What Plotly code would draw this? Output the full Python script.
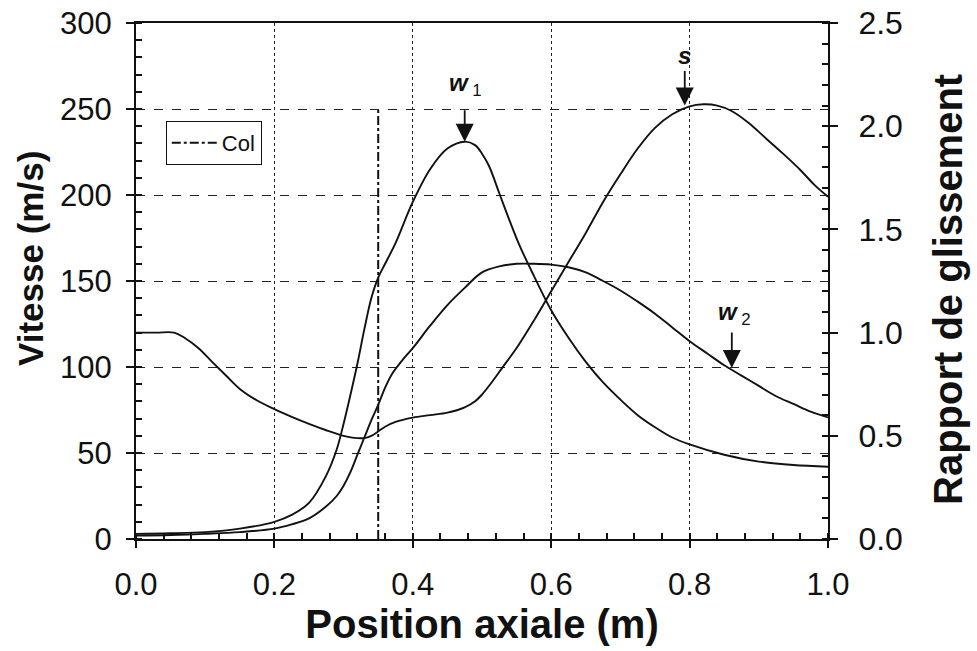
import plotly.graph_objects as go

# Gas velocity w1 (m/s)
x_w1 = [0.00, 0.05, 0.10, 0.15, 0.20, 0.225, 0.25, 0.275, 0.29, 0.30, 0.31, 0.32, 0.33, 0.34, 0.35, 0.36,
        0.375, 0.40, 0.425, 0.45, 0.475, 0.49, 0.50, 0.51, 0.525, 0.54, 0.555, 0.575, 0.60, 0.625, 0.65,
        0.675, 0.70, 0.725, 0.75, 0.775, 0.80, 0.85, 0.90, 0.95, 1.00]
v_w1 = [3, 3.3, 4, 6, 10, 14, 21, 37, 52, 67, 84, 102, 122, 140, 152, 160,
        172, 196, 215, 227, 231, 229, 224, 217, 201, 185, 170, 153, 133, 117, 103,
        91, 81, 72, 65, 59, 55, 49, 45, 43, 42]

# Liquid velocity w2 (m/s)
x_w2 = [0.00, 0.05, 0.10, 0.15, 0.20, 0.225, 0.25, 0.275, 0.29, 0.30, 0.31, 0.32, 0.33, 0.34, 0.35, 0.36,
        0.37, 0.385, 0.40, 0.425, 0.45, 0.475, 0.50, 0.525, 0.55, 0.575, 0.60, 0.625, 0.65, 0.675, 0.70,
        0.725, 0.75, 0.775, 0.80, 0.825, 0.85, 0.875, 0.90, 0.925, 0.95, 0.975, 1.00]
v_w2 = [2, 2.3, 3, 4, 6, 8.5, 12, 19, 25, 31, 39, 49, 59, 69, 78, 88,
        96, 104, 111, 124, 136, 146, 155, 158.5, 160, 160, 159.5, 158, 155, 150, 144.5,
        138, 131, 123, 115, 108, 101, 95, 89, 83, 78.5, 74, 70.7]

# Slip ratio s (right axis)
x_s = [0.00, 0.03, 0.055, 0.07, 0.09, 0.11, 0.13, 0.15, 0.175, 0.20, 0.225, 0.25, 0.275, 0.30, 0.315,
       0.33, 0.34, 0.35, 0.36, 0.375, 0.40, 0.425, 0.45, 0.475, 0.49, 0.50, 0.515, 0.53, 0.55, 0.575,
       0.60, 0.625, 0.65, 0.675, 0.70, 0.725, 0.75, 0.775, 0.80, 0.82, 0.84, 0.86, 0.885, 0.91, 0.935,
       0.96, 0.98, 1.00]
s_vals = [1.00, 1.00, 1.00, 0.975, 0.925, 0.858, 0.792, 0.727, 0.671, 0.629, 0.592, 0.558, 0.527, 0.500, 0.490,
          0.489, 0.500, 0.521, 0.544, 0.567, 0.588, 0.600, 0.612, 0.638, 0.667, 0.700, 0.763, 0.833, 0.925, 1.058,
          1.200, 1.342, 1.483, 1.633, 1.767, 1.892, 1.992, 2.058, 2.096, 2.106, 2.100, 2.075, 2.017, 1.942, 1.867,
          1.788, 1.717, 1.658]

# Throat (Col) position
x_col = [0.35, 0.35]
v_col = [0, 250]

x_ticks = [0.0, 0.2, 0.4, 0.6, 0.8, 1.0]
x_ticklabels = ["0.0", "0.2", "0.4", "0.6", "0.8", "1.0"]
y_ticks = [0, 50, 100, 150, 200, 250, 300]
y2_ticks = [0.0, 0.5, 1.0, 1.5, 2.0, 2.5]
y2_ticklabels = ["0.0", "0.5", "1.0", "1.5", "2.0", "2.5"]

FONT = "Liberation Sans, Arial, sans-serif"
BLK = "#111111"
GRID = "#222222"
LINE = dict(color=BLK, width=1.9, shape="spline", smoothing=1.0)

PL, PR, PT, PB = 136, 149, 23, 112
W, H = 977, 651
PW, PH = W - PL - PR, H - PT - PB

fig = go.Figure()
fig.add_trace(go.Scatter(x=x_w1, y=v_w1, mode="lines", line=LINE, showlegend=False))
fig.add_trace(go.Scatter(x=x_w2, y=v_w2, mode="lines", line=LINE, showlegend=False))
fig.add_trace(go.Scatter(x=x_s, y=s_vals, mode="lines", yaxis="y2", line=LINE, showlegend=False))
fig.add_trace(go.Scatter(x=x_col, y=v_col, mode="lines", name="Col",
                         line=dict(color=BLK, width=2, dash="dashdot")))

annotations = []
# arrows
for (xa, ya, dy) in [(0.475, 231, 33), (0.793, 252, 36), (0.861, 99.4, 37)]:
    annotations.append(dict(x=xa, y=ya, xref="x", yref="y", text="", showarrow=True, ax=0, ay=-dy,
                            arrowhead=2, arrowsize=2.0, arrowwidth=1.8, arrowcolor=BLK))
# labels
annotations.append(dict(x=0.476, y=264, xref="x", yref="y", showarrow=False,
                        text="<b><i>w</i></b><sub> 1</sub>", font=dict(family=FONT, size=24, color=BLK)))
annotations.append(dict(x=0.793, y=281, xref="x", yref="y", showarrow=False,
                        text="<b><i>s</i></b>", font=dict(family=FONT, size=24, color=BLK)))
annotations.append(dict(x=0.865, y=131, xref="x", yref="y", showarrow=False,
                        text="<b><i>w</i></b><sub> 2</sub>", font=dict(family=FONT, size=24, color=BLK)))
# y-axis titles as rotated texts (pixel centres converted to paper coords)
annotations.append(dict(x=(30 - PL) / PW, y=(H - PB - 259) / PH, xref="paper", yref="paper",
                        xanchor="center", yanchor="middle", showarrow=False, textangle=-90,
                        text="<b>Vitesse (m/s)</b>", font=dict(family=FONT, size=35, color=BLK)))
annotations.append(dict(x=(948 - PL) / PW, y=(H - PB - 290) / PH, xref="paper", yref="paper",
                        xanchor="center", yanchor="middle", showarrow=False, textangle=-90,
                        text="<b>Rapport de glissement</b>", font=dict(family=FONT, size=40, color=BLK)))

fig.update_layout(
    width=W, height=H,
    margin=dict(l=PL, r=PR, t=PT, b=PB),
    paper_bgcolor="white", plot_bgcolor="white",
    font=dict(family=FONT, color=BLK),
    showlegend=True,
    legend=dict(x=0.043, y=0.81, xanchor="left", yanchor="top", bordercolor=BLK, borderwidth=1,
                bgcolor="white", font=dict(family=FONT, size=22, color=BLK),
                tracegroupgap=0, itemwidth=45),
    xaxis=dict(range=[0, 1.0], tickvals=x_ticks, ticktext=x_ticklabels, automargin=False,
               showline=True, linecolor=BLK, linewidth=2, mirror=True,
               ticks="outside", ticklen=7, tickwidth=1.5, tickcolor=BLK,
               tickfont=dict(family=FONT, size=31, color=BLK), ticklabelstandoff=10,
               minor=dict(dtick=0.04, ticks="inside", ticklen=6, tickcolor=BLK, showgrid=False),
               showgrid=True, gridcolor=GRID, gridwidth=1, griddash="dot",
               zeroline=False,
               title=dict(text="<b>Position axiale (m)</b>", font=dict(family=FONT, size=40, color=BLK), standoff=2)),
    yaxis=dict(range=[0, 300], tickvals=y_ticks, automargin=False,
               showline=True, linecolor=BLK, linewidth=2,
               ticks="outside", ticklen=8, tickwidth=1.5, tickcolor=BLK,
               tickfont=dict(family=FONT, size=31, color=BLK), ticklabelstandoff=8,
               minor=dict(dtick=10, ticks="inside", ticklen=6, tickcolor=BLK, showgrid=False),
               showgrid=True, gridcolor=GRID, gridwidth=1, griddash="dash",
               zeroline=False),
    yaxis2=dict(range=[0, 2.5], tickvals=y2_ticks, ticktext=y2_ticklabels, overlaying="y", side="right",
                automargin=False,
                showline=True, linecolor=BLK, linewidth=2,
                ticks="outside", ticklen=8, tickwidth=1.5, tickcolor=BLK,
                tickfont=dict(family=FONT, size=32, color=BLK), ticklabelstandoff=14,
                minor=dict(dtick=0.1, ticks="inside", ticklen=6, tickcolor=BLK, showgrid=False),
                showgrid=False, zeroline=False),
    annotations=annotations,
)

fig.write_html("out.html")
